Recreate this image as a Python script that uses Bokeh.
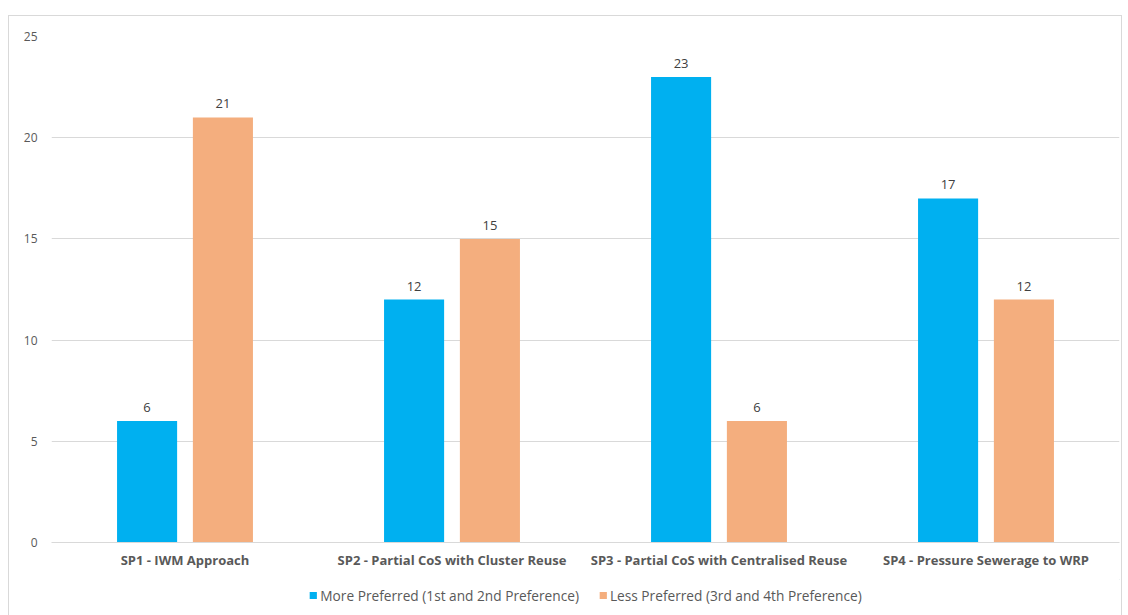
from bokeh.plotting import figure
from bokeh.layouts import column
from bokeh.models import ColumnDataSource, FactorRange, Legend, LegendItem, LabelSet, SingleIntervalTicker
from bokeh.core.properties import value
from bokeh.transform import dodge
from bokeh.embed import file_html
from bokeh.resources import INLINE

categories = [
    "SP1 - IWM Approach",
    "SP2 - Partial CoS with Cluster Reuse",
    "SP3 - Partial CoS with Centralised Reuse",
    "SP4 - Pressure Sewerage to WRP",
]
more_preferred = [6, 12, 23, 17]
less_preferred = [21, 15, 6, 12]
series_names = ["More Preferred (1st and 2nd Preference)", "Less Preferred (3rd and 4th Preference)"]

BLUE = "#00B0F0"
ORANGE = "#F4AE7E"
FONT = "Open Sans"
TEXT = "#595959"

src = ColumnDataSource(dict(cat=categories, more=more_preferred, less=less_preferred,
                            more_txt=[str(v) for v in more_preferred],
                            less_txt=[str(v) for v in less_preferred]))

p = figure(x_range=FactorRange(*categories), y_range=(0, 25),
           width=1112, height=563, output_backend="svg", toolbar_location=None,
           min_border_left=42, min_border_right=2, min_border_top=20, min_border_bottom=37)

off = 0.142
w = 0.225
p.vbar(x=dodge("cat", -off, range=p.x_range), top="more", width=w, source=src,
       fill_color=BLUE, line_color=None)
p.vbar(x=dodge("cat", off, range=p.x_range), top="less", width=w, source=src,
       fill_color=ORANGE, line_color=None)

for col, txt, o in (("more", "more_txt", -off), ("less", "less_txt", off)):
    p.add_layout(LabelSet(x=dodge("cat", o, range=p.x_range), y=col, text=txt, source=src,
                          y_offset=9, text_align="center", text_baseline="bottom",
                          text_font=value(FONT), text_font_size="13px", text_color="#404040"))

p.outline_line_color = None
p.background_fill_color = "white"
p.border_fill_color = "white"
p.xgrid.grid_line_color = None
p.ygrid.grid_line_color = "#d9d9d9"
p.yaxis.ticker = SingleIntervalTicker(interval=5)
p.yaxis.axis_line_color = None
p.yaxis.major_tick_line_color = None
p.yaxis.minor_tick_line_color = None
p.yaxis.major_label_text_font = FONT
p.yaxis.major_label_text_font_size = "12px"
p.yaxis.major_label_text_color = TEXT
p.yaxis.major_label_standoff = 8

p.xaxis.axis_line_color = "#d9d9d9"
p.xaxis.major_tick_line_color = None
p.xaxis.minor_tick_line_color = None
p.xaxis.major_label_text_font = FONT
p.xaxis.major_label_text_font_style = "bold"
p.xaxis.major_label_text_font_size = "13px"
p.xaxis.major_label_text_color = TEXT
p.xaxis.major_label_standoff = 2

# Legend strip underneath the bars; key glyphs sit outside the visible range
leg = figure(width=1112, height=37, output_backend="svg", toolbar_location=None,
             x_range=(0, 1), y_range=(0, 1), x_axis_location=None, y_axis_location=None,
             min_border=0, min_border_bottom=5)
leg.outline_line_color = None
leg.grid.grid_line_color = None
k1 = leg.vbar(x=[5], top=[5], bottom=[4], width=0.1, fill_color=BLUE, line_color=None)
k2 = leg.vbar(x=[5], top=[5], bottom=[4], width=0.1, fill_color=ORANGE, line_color=None)
leg.add_layout(Legend(items=[LegendItem(label=series_names[0], renderers=[k1]),
                             LegendItem(label=series_names[1], renderers=[k2])],
                      orientation="horizontal", location="center",
                      label_text_font=FONT, label_text_font_size="13.7px", label_text_color=TEXT,
                      glyph_width=9, glyph_height=9, spacing=19, label_standoff=3,
                      border_line_color=None, background_fill_alpha=0, padding=0, margin=0),
               "center")

layout = column(p, leg, spacing=0)
layout.styles = {"margin-left": "8px", "margin-top": "15px", "border": "1px solid #d9d9d9"}

open("out.html", "w").write(file_html(layout, INLINE))
